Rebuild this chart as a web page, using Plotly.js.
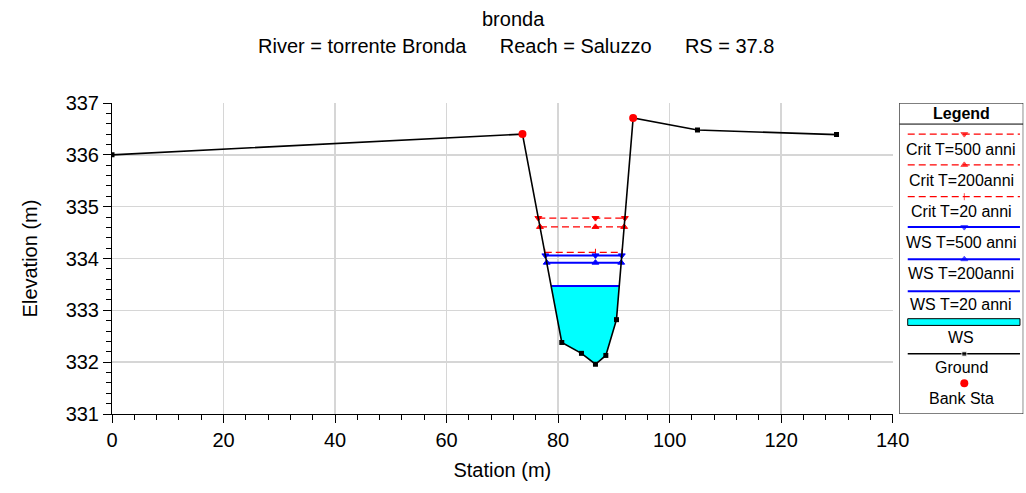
<!DOCTYPE html>
<html>
<head>
<meta charset="utf-8">
<script src="https://cdn.plot.ly/plotly-3.0.1.min.js"></script>
<style>
  html, body { margin: 0; padding: 0; background: #fff; }
  #chart { width: 1026px; height: 493px; }
</style>
</head>
<body>
<div id="chart"></div>
<script>
// Cross section geometry (station, elevation) in metres
const station   = [0, 73.61, 80.66, 84.19, 86.70, 88.56, 90.47, 93.46, 105.0, 129.93];
const elevation = [336.00, 336.40, 332.38, 332.17, 331.96, 332.13, 332.82, 336.71, 336.48, 336.39];

// Bank stations
const bankStations = [73.61, 93.46];

// Computed profiles: water surface / critical depth elevations
const profileNames = ['Crit T=500 anni', 'Crit T=200anni', 'Crit T=20 anni',
                      'WS T=500 anni', 'WS T=200anni', 'WS T=20 anni'];
const profileElev  = [334.78, 334.61, 334.12, 334.06, 333.92, 333.47];

// Profile used for the filled wetted area
const filledProfile = 'WS T=20 anni';

// Axis ticks
const xTicks = [0, 20, 40, 60, 80, 100, 120, 140];
const yTicks = [331, 332, 333, 334, 335, 336, 337];

// Heading lines
const planName = 'bronda';
const riverName = 'torrente Bronda';
const reachName = 'Saluzzo';
const riverStation = '37.8';

// ---- helpers ----
function groundAt(s) {
  for (let i = 0; i < station.length - 1; i++) {
    if (s >= station[i] && s <= station[i + 1]) {
      const t = (s - station[i]) / (station[i + 1] - station[i]);
      return elevation[i] + t * (elevation[i + 1] - elevation[i]);
    }
  }
  return null;
}
const thalweg = elevation.indexOf(Math.min(...elevation));

// Where a level z meets the ground on both sides of the thalweg
function waterEdges(z) {
  let i = thalweg;
  while (i > 0 && elevation[i - 1] < z) i--;
  const a = i - 1;
  const sl = station[a] + (z - elevation[a]) * (station[i] - station[a]) / (elevation[i] - elevation[a]);
  let j = thalweg;
  while (j < station.length - 1 && elevation[j + 1] < z) j++;
  const b = j + 1;
  const sr = station[j] + (z - elevation[j]) * (station[b] - station[j]) / (elevation[b] - elevation[j]);
  return { sl, sr, first: i, last: j };
}

const styles = {
  'Crit T=500 anni': { color: 'red',  dash: '7px,4px', width: 1.2, symbol: 'triangle-down', size: 6 },
  'Crit T=200anni':  { color: 'red',  dash: '7px,4px', width: 1.2, symbol: 'triangle-up',   size: 6 },
  'Crit T=20 anni':  { color: 'red',  dash: '7px,4px', width: 1.2, symbol: 'line-ns-open',  size: 5 },
  'WS T=500 anni':   { color: 'blue', dash: 'solid',   width: 2,   symbol: 'triangle-down', size: 6 },
  'WS T=200anni':    { color: 'blue', dash: 'solid',   width: 2,   symbol: 'triangle-up',   size: 6 },
  'WS T=20 anni':    { color: 'blue', dash: 'solid',   width: 2,   symbol: null,            size: 0 }
};

function levelTrace(xs, ys, st, sizes, extra) {
  const tr = Object.assign({
    x: xs, y: ys, type: 'scatter', mode: st.symbol ? 'lines+markers' : 'lines',
    line: { color: st.color, width: st.width, dash: st.dash },
    hoverinfo: 'skip', showlegend: false
  }, extra || {});
  if (st.symbol) {
    tr.marker = { symbol: st.symbol, size: sizes, color: st.color,
                  line: { color: st.color, width: 1 } };
  }
  return tr;
}

const traces = [];

// Wetted area
{
  const z = profileElev[profileNames.indexOf(filledProfile)];
  const e = waterEdges(z);
  const xs = [e.sl], ys = [z];
  for (let k = e.first; k <= e.last; k++) { xs.push(station[k]); ys.push(elevation[k]); }
  xs.push(e.sr); ys.push(z);
  traces.push({
    x: xs, y: ys, type: 'scatter', mode: 'lines', fill: 'toself',
    fillcolor: '#00FFFF', line: { width: 0, color: '#00FFFF' },
    hoverinfo: 'skip', showlegend: false
  });
}

// Profile lines
profileNames.forEach((name, k) => {
  const z = profileElev[k];
  const e = waterEdges(z);
  const st = styles[name];
  traces.push(levelTrace([e.sl, station[thalweg], e.sr], [z, z, z], st, st.size, { name: name }));
});

// Ground
traces.push({
  x: station, y: elevation, type: 'scatter', mode: 'lines+markers',
  line: { color: 'black', width: 1.6 },
  marker: { symbol: 'square', size: 5, color: 'black' },
  name: 'Ground', hoverinfo: 'skip', showlegend: false
});

// Bank stations
traces.push({
  x: bankStations, y: bankStations.map(groundAt), type: 'scatter', mode: 'markers',
  marker: { symbol: 'circle', size: 8, color: 'red' },
  name: 'Bank Sta', hoverinfo: 'skip', showlegend: false
});

// ---- legend panel, drawn in its own small frame (x 0..124, y 0..310 from top) ----
const legendRows = [
  { name: 'Crit T=500 anni', lineY: 31,    textY: 46.7 },
  { name: 'Crit T=200anni',  lineY: 61.7,  textY: 77.7 },
  { name: 'Crit T=20 anni',  lineY: 93.4,  textY: 108.4 },
  { name: 'WS T=500 anni',   lineY: 123.7, textY: 139.4 },
  { name: 'WS T=200anni',    lineY: 155.7, textY: 170 },
  { name: 'WS T=20 anni',    lineY: 187.7, textY: 200.7 }
];
const LX0 = 8.4, LX1 = 120.7, LXM = 65, LXT = 62;
const annotations = [];
const shapes = [];

legendRows.forEach(r => {
  const st = styles[r.name];
  traces.push(levelTrace([LX0, LXM, LX1], [r.lineY, r.lineY, r.lineY], st,
                         [0, st.size, 0], { xaxis: 'x2', yaxis: 'y2' }));
  annotations.push({ xref: 'x2', yref: 'y2', x: LXT, y: r.textY, text: r.name,
                     showarrow: false, font: { size: 16 } });
});

// WS fill swatch
shapes.push({ type: 'rect', xref: 'x2', yref: 'y2', x0: LX0, x1: LX1, y0: 215, y1: 221.7,
              fillcolor: '#00FFFF', line: { color: 'black', width: 1 } });
annotations.push({ xref: 'x2', yref: 'y2', x: LXT, y: 234, text: 'WS', showarrow: false, font: { size: 16 } });

// Ground swatch
traces.push({
  x: [LX0, LXM, LX1], y: [250, 250, 250], xaxis: 'x2', yaxis: 'y2',
  type: 'scatter', mode: 'lines+markers', line: { color: 'black', width: 1.6 },
  marker: { symbol: 'square', size: [0, 5, 0], color: 'black' },
  hoverinfo: 'skip', showlegend: false
});
annotations.push({ xref: 'x2', yref: 'y2', x: LXT, y: 263.4, text: 'Ground', showarrow: false, font: { size: 16 } });

// Bank swatch
traces.push({
  x: [LXM], y: [279.4], xaxis: 'x2', yaxis: 'y2', type: 'scatter', mode: 'markers',
  marker: { symbol: 'circle', size: 8, color: 'red' }, hoverinfo: 'skip', showlegend: false
});
annotations.push({ xref: 'x2', yref: 'y2', x: LXT, y: 295, text: 'Bank Sta', showarrow: false, font: { size: 16 } });

// Legend frame and header
shapes.push({ type: 'rect', xref: 'x2', yref: 'y2', x0: 0, x1: 124, y0: 0, y1: 310,
              line: { color: 'black', width: 1 }, fillcolor: 'rgba(0,0,0,0)' });
shapes.push({ type: 'line', xref: 'x2', yref: 'y2', x0: 0, x1: 124, y0: 21, y1: 21,
              line: { color: 'black', width: 1 } });
annotations.push({ xref: 'x2', yref: 'y2', x: 62, y: 10.7, text: '<b>Legend</b>',
                   showarrow: false, font: { size: 16 } });

// Two heading lines above the plot (paper coords: plot area spans 103..414 px, 112..1024 px)
const sp = '\u00A0';
annotations.push({
  xref: 'paper', yref: 'paper', x: (513 - 112) / 912, y: (414 - 19) / 311,
  xanchor: 'center', yanchor: 'middle', showarrow: false,
  text: planName, font: { size: 20 }
});
annotations.push({
  xref: 'paper', yref: 'paper', x: (516 - 112) / 912, y: (414 - 46) / 311,
  xanchor: 'center', yanchor: 'middle', showarrow: false,
  text: 'River = ' + riverName + sp.repeat(6) + 'Reach = ' + reachName + sp.repeat(6) + 'RS = ' + riverStation,
  font: { size: 20 }
});

const layout = {
  width: 1026, height: 493,
  margin: { l: 112, r: 2, t: 103, b: 79 },
  paper_bgcolor: 'white', plot_bgcolor: 'white',
  font: { family: '"Liberation Sans", Arial, sans-serif', color: 'black', size: 20 },
  xaxis: {
    domain: [0, 0.856], range: [0, 140], tickvals: xTicks, ticks: 'outside', ticklen: 8,
    tickcolor: 'black', tickwidth: 1, showline: true, linecolor: 'black', linewidth: 1,
    showgrid: true, gridcolor: '#d6d6d6', gridwidth: 1.5, zeroline: false,
    minor: { dtick: 4, ticks: 'outside', ticklen: 5, tickcolor: 'black', showgrid: false },
    title: { text: 'Station (m)', standoff: 12, font: { size: 20 } },
    tickfont: { size: 20 }, fixedrange: true
  },
  yaxis: {
    domain: [0, 1], range: [331, 337], tickvals: yTicks, ticks: 'outside', ticklen: 8,
    tickcolor: 'black', tickwidth: 1, showline: true, linecolor: 'black', linewidth: 1,
    showgrid: true, gridcolor: '#d6d6d6', gridwidth: 1.5, zeroline: false,
    minor: { dtick: 0.2, ticks: 'outside', ticklen: 5, tickcolor: 'black', showgrid: false },
    title: { text: 'Elevation (m)', standoff: 22, font: { size: 20 } },
    tickfont: { size: 20 }, fixedrange: true
  },
  xaxis2: { domain: [0.8633, 0.9992], range: [0, 124], anchor: 'y2', visible: false, fixedrange: true },
  yaxis2: { domain: [0, 1], range: [310, 0], anchor: 'x2', visible: false, fixedrange: true },
  shapes: shapes,
  annotations: annotations,
  showlegend: false
};

Plotly.newPlot('chart', traces, layout, { displayModeBar: false, staticPlot: true });
</script>
</body>
</html>
